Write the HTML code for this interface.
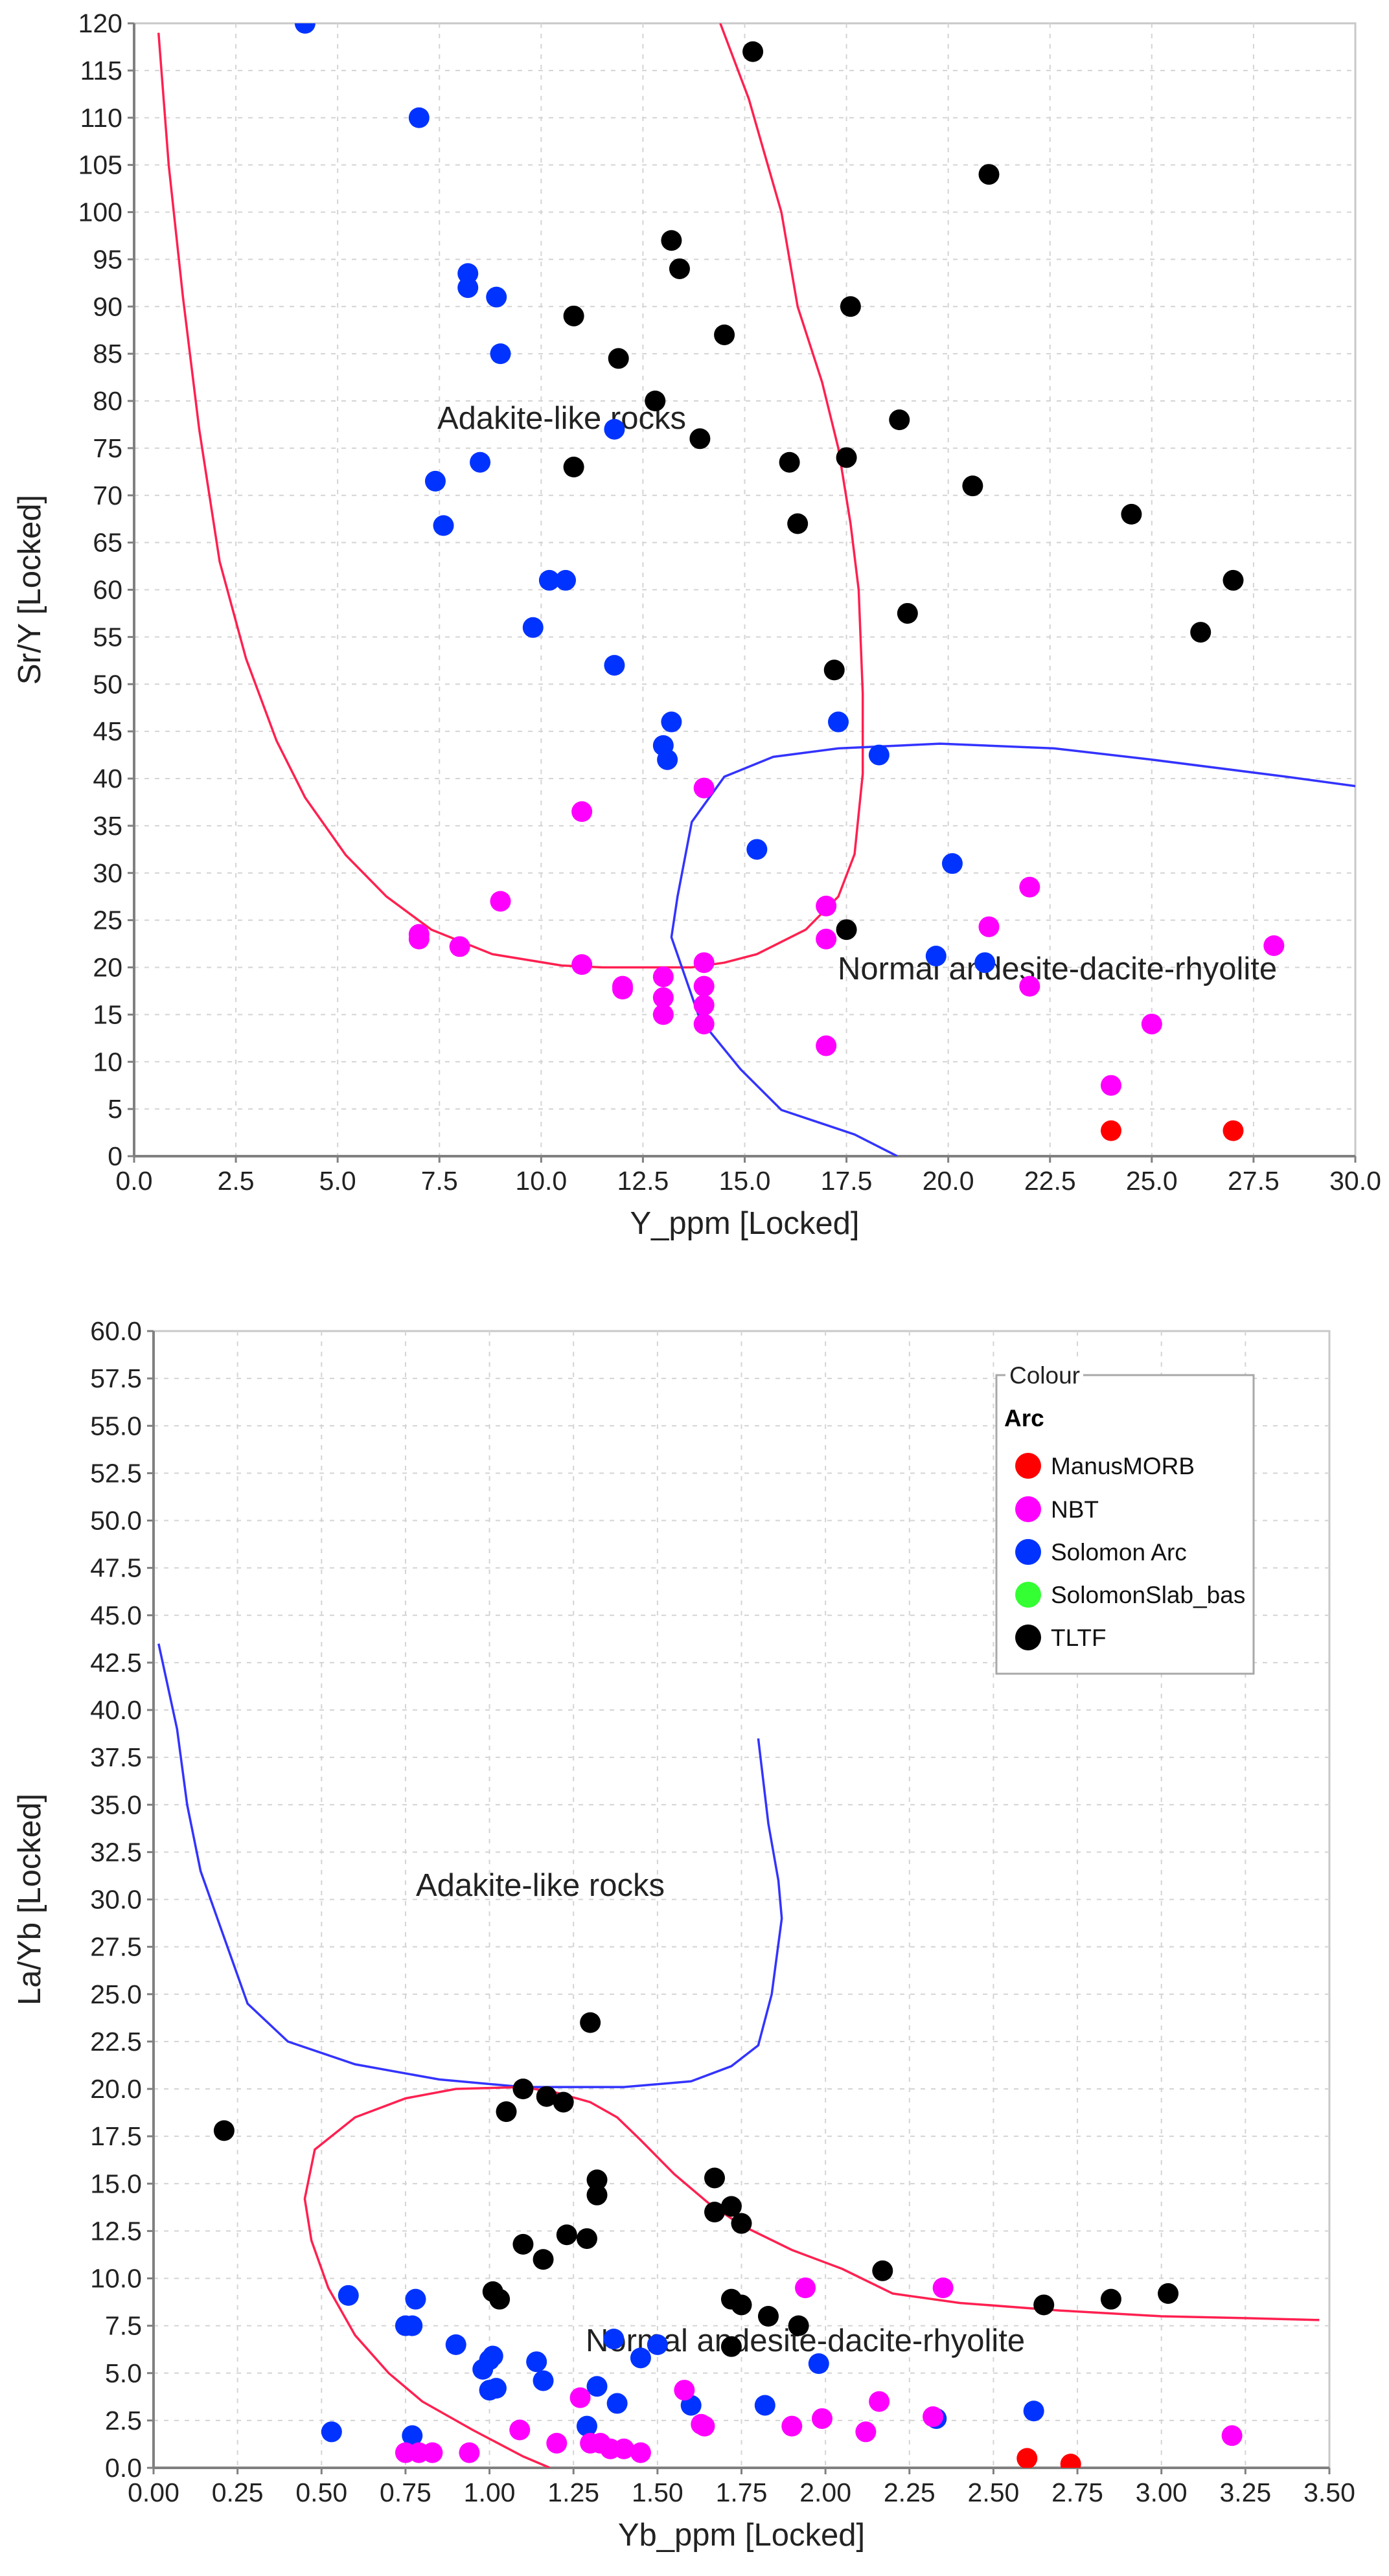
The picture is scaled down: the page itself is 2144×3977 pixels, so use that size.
<!DOCTYPE html>
<html><head><meta charset="utf-8">
<style>
html,body{margin:0;padding:0;background:#fff;}
svg{display:block;font-family:"Liberation Sans",sans-serif;}
</style></head>
<body>
<svg id="chart" width="2144" height="3977" viewBox="0 0 2144 3977" xmlns="http://www.w3.org/2000/svg">
<rect x="0" y="0" width="2144" height="3977" fill="#fff"/>
<g id="top"></g>
<g id="bot"></g>
<g id="legend">
  <rect x="1538" y="2123" width="397" height="461" fill="#fff" stroke="#a8a8a8" stroke-width="3"/>
  <rect x="1552" y="2100" width="120" height="45" fill="#fff"/>
  <text x="1558" y="2136" font-size="37" fill="#222">Colour</text>
  <text x="1550" y="2202" font-size="37" font-weight="bold" fill="#000">Arc</text>
  <g><circle cx="1587" cy="2263" r="20" fill="#ff0000"/><text x="1622" y="2276" font-size="37" fill="#111">ManusMORB</text></g>
  <g><circle cx="1587" cy="2330" r="20" fill="#ff00ff"/><text x="1622" y="2343" font-size="37" fill="#111">NBT</text></g>
  <g><circle cx="1587" cy="2396" r="20" fill="#0033ff"/><text x="1622" y="2409" font-size="37" fill="#111">Solomon Arc</text></g>
  <g><circle cx="1587" cy="2462" r="20" fill="#33ff33"/><text x="1622" y="2475" font-size="37" fill="#111">SolomonSlab_bas</text></g>
  <g><circle cx="1587" cy="2528" r="20" fill="#000"/><text x="1622" y="2541" font-size="37" fill="#111">TLTF</text></g>
</g>
</svg>
<script>
// ---------- Top chart data ----------
const topXTicks = [0,2.5,5,7.5,10,12.5,15,17.5,20,22.5,25,27.5,30];
const topXTickLabels = ["0.0","2.5","5.0","7.5","10.0","12.5","15.0","17.5","20.0","22.5","25.0","27.5","30.0"];
const topYTicks = [0,5,10,15,20,25,30,35,40,45,50,55,60,65,70,75,80,85,90,95,100,105,110,115,120];
const topTLTF_x = [15.2,21,13.2,13.4,17.6,10.8,14.5,11.9,12.8,18.8,13.9,10.8,16.1,17.5,20.6,24.5,16.3,27,19,26.2,17.2,17.5];
const topTLTF_y = [117,104,97,94,90,89,87,84.5,80,78,76,73,73.5,74,71,68,67,61,57.5,55.5,51.5,24];
const topSol_x = [4.2,7,8.2,8.2,8.9,9,11.8,8.5,7.4,7.6,10.2,10.6,9.8,11.8,13.2,13,13.1,17.3,18.3,15.3,20.1,19.7,20.9];
const topSol_y = [120,110,93.5,92,91,85,77,73.5,71.5,66.8,61,61,56,52,46,43.5,42,46,42.5,32.5,31,21.2,20.5];
const topNBT_x = [14,11,9,7,7,8,11,12,12,13,13,13,14,14,14,14,17,17,17,21,22,22,25,28,24];
const topNBT_y = [39,36.5,27,23.5,23,22.2,20.3,18,17.7,19,16.8,15,20.5,18,16,14,26.5,23,11.7,24.3,28.5,18,14,22.3,7.5];
const topMORB_x = [24,27];
const topMORB_y = [2.7,2.7];
const topRed_x = [0.6,0.85,1.2,1.6,2.1,2.75,3.5,4.2,5.2,6.2,7.3,8.8,10.5,11.5,13.7,14.5,15.3,16.5,17.3,17.7,17.9,17.9,17.8,17.6,17.3,16.9,16.3,15.9,15.5,15.1,14.4];
const topRed_y = [119,105,91,77,63,52.7,44,38,31.9,27.5,24,21.4,20.2,20,20,20.5,21.4,24,27.5,32,40.5,49,60,67,75,82,90,100,106,112,120];
const topBlue_x = [18.75,17.7,15.9,14.9,13.9,13.2,13.35,13.7,14.5,15.7,17.3,19.8,22.6,25,28.3,30];
const topBlue_y = [0,2.3,4.9,9.2,14.5,23.2,27.5,35.4,40.2,42.3,43.2,43.7,43.2,42,40.2,39.2];

// ---------- Bottom chart data ----------
const botXTicks = [0,0.25,0.5,0.75,1,1.25,1.5,1.75,2,2.25,2.5,2.75,3,3.25,3.5];
const botXTickLabels = ["0.00","0.25","0.50","0.75","1.00","1.25","1.50","1.75","2.00","2.25","2.50","2.75","3.00","3.25","3.50"];
const botYTicks = [0,2.5,5,7.5,10,12.5,15,17.5,20,22.5,25,27.5,30,32.5,35,37.5,40,42.5,45,47.5,50,52.5,55,57.5,60];
const botTLTF_x = [0.21,1.30,1.10,1.05,1.17,1.22,1.32,1.32,1.23,1.29,1.10,1.16,1.01,1.03,1.67,1.72,1.67,1.75,2.17,1.72,1.75,1.83,1.92,1.72,2.65,2.85,3.02];
const botTLTF_y = [17.8,23.5,20.0,18.8,19.6,19.3,15.2,14.4,12.3,12.1,11.8,11.0,9.3,8.9,15.3,13.8,13.5,12.9,10.4,8.9,8.6,8.0,7.5,6.4,8.6,8.9,9.2];
const botSol_x = [0.58,0.78,0.75,0.77,0.90,0.98,1.00,1.01,1.00,1.02,1.14,1.16,1.37,1.45,1.50,1.38,1.32,1.29,1.60,1.82,1.98,0.53,0.77,2.33,2.62];
const botSol_y = [9.1,8.9,7.5,7.5,6.5,5.2,5.7,5.9,4.1,4.2,5.6,4.6,6.8,5.8,6.5,3.4,4.3,2.2,3.3,3.3,5.5,1.9,1.7,2.6,3.0];
const botNBT_x = [0.75,0.79,0.83,0.94,1.09,1.20,1.27,1.30,1.33,1.36,1.40,1.45,1.58,1.63,1.64,1.90,1.94,1.99,2.12,2.16,2.32,2.35,3.21];
const botNBT_y = [0.8,0.8,0.8,0.8,2.0,1.3,3.7,1.3,1.3,1.0,1.0,0.8,4.1,2.3,2.2,2.2,9.5,2.6,1.9,3.5,2.7,9.5,1.7];
const botMORB_x = [2.60,2.73];
const botMORB_y = [0.5,0.2];
const botBlue_x = [0.015,0.07,0.1,0.14,0.2,0.28,0.4,0.6,0.85,1.1,1.4,1.6,1.72,1.8,1.84,1.87,1.86,1.83,1.8];
const botBlue_y = [43.5,39,35,31.5,28.5,24.5,22.5,21.3,20.5,20.1,20.1,20.4,21.2,22.3,25,29,31,34,38.5];
const botRed_x = [1.18,1.1,0.95,0.8,0.7,0.6,0.52,0.47,0.45,0.48,0.6,0.75,0.9,1.1,1.2,1.3,1.38,1.45,1.55,1.65,1.75,1.9,2.05,2.2,2.4,2.7,3.0,3.25,3.47];
const botRed_y = [0,0.6,2.0,3.5,5.0,7.0,9.5,12,14.2,16.8,18.5,19.5,20,20.1,19.8,19.3,18.5,17.3,15.5,14,12.8,11.5,10.5,9.2,8.7,8.3,8.0,7.9,7.8];

const NS = "http://www.w3.org/2000/svg";
function mk(tag, attrs, parent){ const e=document.createElementNS(NS,tag); for(const k in attrs) e.setAttribute(k,attrs[k]); parent.appendChild(e); return e; }

function drawChart(g, cfg){
  const sx = v => cfg.L + (v-cfg.xmin)/(cfg.xmax-cfg.xmin)*(cfg.R-cfg.L);
  const sy = v => cfg.B - (v-cfg.ymin)/(cfg.ymax-cfg.ymin)*(cfg.B-cfg.T);
  const bg = mk('rect',{x:cfg.L,y:cfg.T,width:cfg.R-cfg.L,height:cfg.B-cfg.T,fill:'#fff',stroke:'#c8c8c8','stroke-width':3},g);
  
  
  cfg.xt.forEach((t,i)=>{
    const x=sx(t);
    if(i>0 && i<cfg.xt.length-1){
      const l=mk('line',{x1:x,y1:cfg.T,x2:x,y2:cfg.B,stroke:'#d4d4d4','stroke-width':2,'stroke-dasharray':'7,9'},g);
      
      
    }
    const tk=mk('line',{x1:x,y1:cfg.B,x2:x,y2:cfg.B+10,stroke:'#808080','stroke-width':3},g);
    
    
    const tx=mk('text',{x:x,y:cfg.B+52,'font-size':41,'text-anchor':'middle',fill:'#222'},g);
    tx.textContent=cfg.xl[i];
    
    
  });
  cfg.yt.forEach((t,i)=>{
    const y=sy(t);
    if(i>0 && i<cfg.yt.length-1){
      const l=mk('line',{x1:cfg.L,y1:y,x2:cfg.R,y2:y,stroke:'#d4d4d4','stroke-width':2,'stroke-dasharray':'7,9'},g);
      
      
    }
    const tk=mk('line',{x1:cfg.L-10,y1:y,x2:cfg.L,y2:y,stroke:'#808080','stroke-width':3},g);
    
    
    const tx=mk('text',{x:cfg.L-18,y:y+14,'font-size':41,'text-anchor':'end',fill:'#222'},g);
    tx.textContent=cfg.yfmt(t);
    
    
  });
  const ax=mk('line',{x1:cfg.L,y1:cfg.B,x2:cfg.R,y2:cfg.B,stroke:'#808080','stroke-width':4},g);
  
  
  const ay=mk('line',{x1:cfg.L,y1:cfg.T,x2:cfg.L,y2:cfg.B,stroke:'#808080','stroke-width':4},g);
  
  
  cfg.ann.forEach(a=>{
    const t=mk('text',{x:a[0],y:a[1],'font-size':49,fill:'#222'},g);
    t.textContent=a[2];
    
    
  });
  const clip='clip'+Math.round(cfg.T);
  const cp=mk('clipPath',{id:clip},g);
  mk('rect',{x:cfg.L,y:cfg.T,width:cfg.R-cfg.L,height:cfg.B-cfg.T},cp);
  cfg.lines.forEach(ln=>{
    const pts=ln.xs.map((v,i)=>sx(v).toFixed(1)+','+sy(ln.ys[i]).toFixed(1)).join(' ');
    const p=mk('polyline',{points:pts,fill:'none',stroke:ln.c,'stroke-width':3.5,'clip-path':'url(#'+clip+')'},g);
    
    
  });
  cfg.series.forEach(s=>{
    s.xs.forEach((v,i)=>{
      const c=mk('circle',{cx:sx(v),cy:sy(s.ys[i]),r:16,fill:s.c,'clip-path':'url(#'+clip+')'},g);
      
      
    });
  });
  const xt=mk('text',{x:(cfg.L+cfg.R)/2,y:cfg.B+120,'font-size':49,'text-anchor':'middle',fill:'#222'},g);
  xt.textContent=cfg.xtitle;
  
  
  const yc=(cfg.T+cfg.B)/2;
  const yt=mk('text',{x:62,y:yc,'font-size':49,'text-anchor':'middle',fill:'#222',transform:'rotate(-90 62 '+yc+')'},g);
  yt.textContent=cfg.ytitle;
  
  
}

drawChart(document.getElementById('top'),{
  L:207,R:2092,T:36,B:1785,xmin:0,xmax:30,ymin:0,ymax:120,
  xt:topXTicks,xl:topXTickLabels,yt:topYTicks,yfmt:v=>String(v),
  xtitle:'Y_ppm [Locked]',ytitle:'Sr/Y [Locked]',
  ann:[[675,662,'Adakite-like rocks'],[1293,1512,'Normal andesite-dacite-rhyolite']],
  lines:[{xs:topRed_x,ys:topRed_y,c:'#ff2050',name:'adakite-boundary-line'},{xs:topBlue_x,ys:topBlue_y,c:'#3333ff',name:'normal-arc-boundary-line'}],
  series:[{xs:topTLTF_x,ys:topTLTF_y,c:'#000',name:'point-tltf'},{xs:topSol_x,ys:topSol_y,c:'#0033ff',name:'point-solomon-arc'},{xs:topNBT_x,ys:topNBT_y,c:'#ff00ff',name:'point-nbt'},{xs:topMORB_x,ys:topMORB_y,c:'#ff0000',name:'point-manusmorb'}]
});
drawChart(document.getElementById('bot'),{
  L:237,R:2052,T:2055,B:3810,xmin:0,xmax:3.5,ymin:0,ymax:60,
  xt:botXTicks,xl:botXTickLabels,yt:botYTicks,yfmt:v=>v.toFixed(1),
  xtitle:'Yb_ppm [Locked]',ytitle:'La/Yb [Locked]',
  ann:[[642,2927,'Adakite-like rocks'],[904,3630,'Normal andesite-dacite-rhyolite']],
  lines:[{xs:botBlue_x,ys:botBlue_y,c:'#3333ff',name:'adakite-boundary-line'},{xs:botRed_x,ys:botRed_y,c:'#ff2050',name:'normal-arc-boundary-line'}],
  series:[{xs:botTLTF_x,ys:botTLTF_y,c:'#000',name:'point-tltf'},{xs:botSol_x,ys:botSol_y,c:'#0033ff',name:'point-solomon-arc'},{xs:botNBT_x,ys:botNBT_y,c:'#ff00ff',name:'point-nbt'},{xs:botMORB_x,ys:botMORB_y,c:'#ff0000',name:'point-manusmorb'}]
});
document.getElementById('chart').appendChild(document.getElementById('legend'));
</script>
</body></html>
